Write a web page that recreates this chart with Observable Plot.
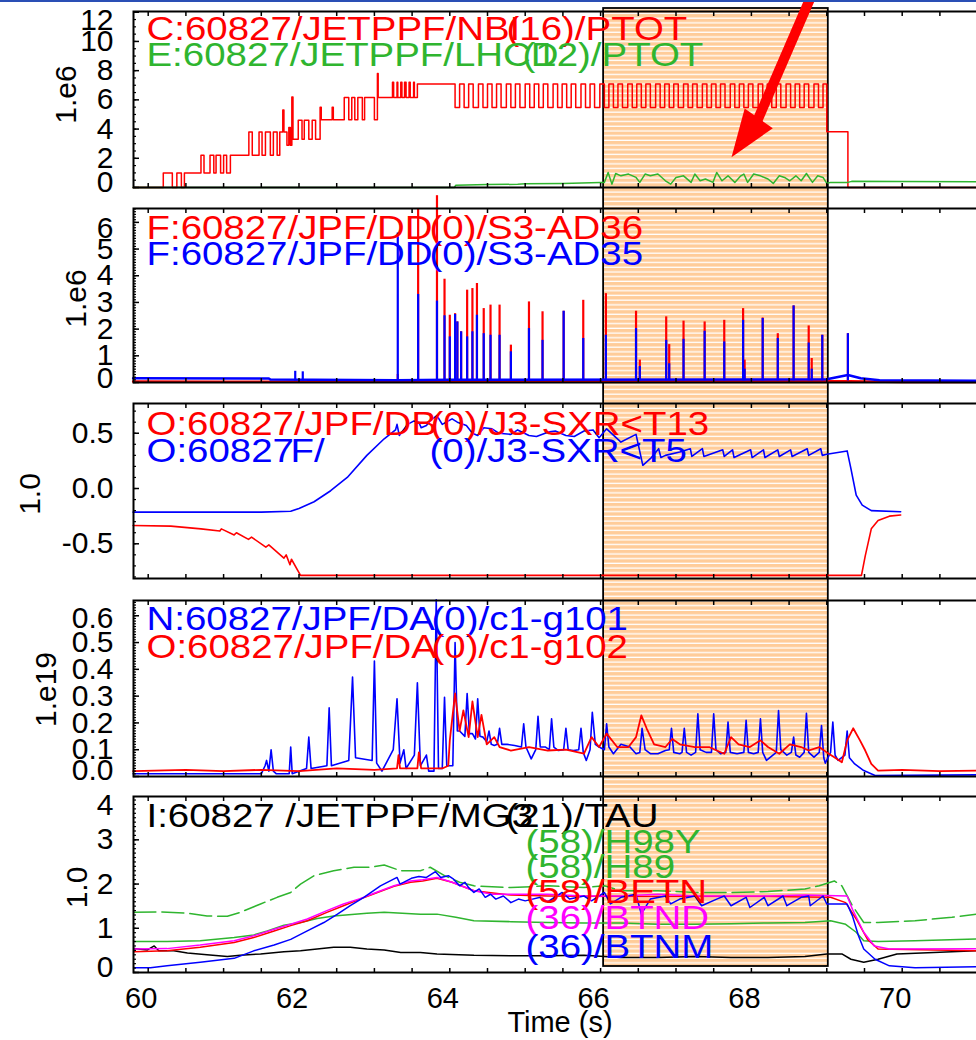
<!DOCTYPE html>
<html><head><meta charset="utf-8">
<script src="https://cdn.jsdelivr.net/npm/d3@7"></script>
<script src="https://cdn.jsdelivr.net/npm/@observablehq/plot@0.6"></script>
<style>
html,body{margin:0;padding:0;background:#fff;}
#wrap{position:relative;width:976px;height:1040px;overflow:hidden;}
#wrap svg{position:absolute;left:0;}
#topline{position:absolute;left:0;top:0;width:976px;height:2px;background:#2a4fb5;z-index:10}
</style></head><body><div id="wrap"><div id="topline"></div></div>
<script>
// ---------------- data ----------------
const xTickLabels = [60, 62, 64, 66, 68, 70];
const orangeBand = [66.04, 69.02];

// Panel 1: NBI PTOT (step) and LHCD PTOT, units 1e6
const nbSteps = [
[59.80,0],[60.20,1.0],[60.32,0],[60.38,1.0],[60.44,0],[60.48,1.0],
[60.70,2.2],[60.74,1.0],[60.82,2.2],[60.87,1.0],[60.90,2.2],[60.96,1.0],[61.00,2.2],[61.04,1.0],[61.09,2.2],
[61.335,3.8],[61.38,2.2],[61.47,3.8],[61.51,2.2],[61.555,3.8],[61.62,2.2],[61.66,3.8],[61.71,2.2],[61.745,3.8],
[61.785,5.3],[61.80,3.8],[61.84,2.9],[61.865,4.1],[61.885,2.9],[61.905,6.2],[61.92,3.3],
[61.99,4.6],[62.04,3.3],[62.07,4.6],[62.13,3.3],[62.175,4.6],[62.22,3.3],
[62.28,5.5],[62.295,4.64],[62.44,5.5],[62.455,4.64],
[62.60,6.16],[62.66,4.64],[62.70,6.16],[62.74,4.64],[62.78,6.16],[62.84,4.64],[62.87,6.16],[63.00,4.64],
[63.04,7.8],[63.05,6.16],
[63.24,7.2],[63.255,6.16],[63.30,7.2],[63.31,6.16],[63.35,7.2],[63.365,6.16],[63.40,7.2],[63.42,6.16],[63.46,7.2],[63.475,6.16],[63.52,7.2],[63.53,6.16],
[63.57,7.08],[64.07,5.48]
];
const nbModHigh = 7.08, nbModLow = 5.48;
const nbModOn = [64.13,64.25,64.38,64.50,64.62,64.75,64.87,65.00,65.12,65.24,65.37,65.49,65.61,65.74,65.86,65.99,66.11,66.23,66.36,66.48,66.60,66.73,66.85,66.97,67.10,67.22,67.35,67.47,67.59,67.72,67.84,67.96,68.09,68.21,68.33,68.46,68.58,68.70,68.83,68.95];
const nbModOff = [64.19,64.31,64.44,64.56,64.68,64.81,64.93,65.06,65.18,65.30,65.43,65.55,65.67,65.80,65.92,66.05,66.17,66.29,66.42,66.54,66.66,66.79,66.91,67.03,67.16,67.28,67.41,67.53,67.65,67.78,67.90,68.02,68.15,68.27,68.39,68.52,68.64,68.76,68.89];
const nbTail = [[69.00,3.82],[69.28,0],[71.0,0]];
const lhPtot = [[59.80,0],[64.06,0],[64.08,0.16],[64.5,0.2],[64.9,0.22],[65.0,0.25],[65.5,0.28],[66.0,0.35],
[66.05,0.35],[66.10,1.03],[66.15,0.23],[66.20,0.96],[66.27,0.80],[66.37,0.92],[66.47,0.69],[66.52,0.35],[66.59,0.92],[66.66,0.80],[66.76,0.92],[66.86,0.46],[66.93,0.23],[67.00,0.69],[67.10,0.80],[67.20,0.35],[67.25,0.92],[67.32,0.46],[67.39,0.58],[67.49,0.35],[67.54,1.03],[67.61,0.46],[67.69,0.80],[67.78,0.35],[67.86,0.80],[67.90,0.92],[67.95,0.35],[68.03,0.92],[68.12,0.80],[68.22,0.58],[68.29,0.28],[68.37,0.80],[68.44,0.69],[68.51,0.46],[68.59,0.80],[68.66,0.46],[68.73,0.96],[68.81,0.35],[68.88,0.80],[68.95,0.69],[69.00,0.28],
[69.05,0.35],[69.28,0.35],[69.33,0.42],[70.0,0.41],[71.0,0.40]];
const arrowShaft = [[68.797,13.15],[68.068,4.45]];
const arrowTip = [67.736,2.075];

// Panel 2: DD S3-AD36 (red) and S3-AD35 (blue), units 1e6: [t, red peak, blue peak]
const ddSpikes = [
[61.95,0.10,0.42],[62.05,0.10,0.40],[63.31,0.30,5.6],[63.58,6.5,3.3],[63.83,7.0,3.05],[63.93,3.87,2.5],[64.00,2.52,1.71],
[64.07,2.58,2.55],[64.10,2.27,2.27],[64.15,1.9,1.9],[64.23,3.46,1.71],[64.30,3.52,1.9],[64.36,3.71,2.52],[64.45,2.77,1.83],
[64.54,2.9,1.77],[64.66,2.9,1.77],[64.81,1.4,1.15],[65.05,3.02,2.02],[65.23,2.65,1.58],[65.51,2.67,2.67],[65.77,3.08,1.65],
[66.07,3.33,1.77],[66.47,2.67,2.02],[66.52,0.84,0.6],[66.87,2.46,1.58],[66.91,1.42,0.7],[67.10,2.3,1.62],[67.38,2.27,1.92],
[67.64,2.33,1.52],[67.89,2.77,2.33],[67.91,0.84,0.5],[68.15,2.42,2.40],[68.35,1.83,1.65],[68.56,2.87,2.87],[68.76,2.12,1.48],
[68.80,0.9,0.5],[68.94,1.77,1.77],[69.28,1.83,1.83]];
const ddSpikeFoot = 0.06;
const ddRedBase = [[59.8,0.04],[61.0,0.03],[63.3,0.03],[66.0,0.05],[69.3,0.05],[70.0,0.02],[71.0,0.02]];
const ddBlueBase = [[59.8,0.16],[61.6,0.15],[61.62,0.11],[63.3,0.08],[64.0,0.10],[69.0,0.12],[69.28,0.28],[69.45,0.16],[69.7,0.08],[71.0,0.07]];

// Panel 3: J3-SXR<T13 (red), J3-SXR<T5 (blue)
const sxrT13 = [[59.80,-0.335],[60.30,-0.34],[60.70,-0.365],[60.95,-0.385],[60.97,-0.365],[61.14,-0.42],[61.17,-0.40],[61.33,-0.46],[61.37,-0.44],[61.56,-0.53],[61.60,-0.51],[61.80,-0.63],[61.83,-0.60],[61.88,-0.69],[61.90,-0.64],[62.02,-0.786],[69.46,-0.786],[69.51,-0.61],[69.59,-0.365],[69.68,-0.29],[69.83,-0.25],[69.98,-0.24]];
const sxrT5 = [[59.80,-0.214],[61.50,-0.214],[61.89,-0.205],[62.00,-0.18],[62.20,-0.12],[62.42,-0.02],[62.64,0.10],[62.90,0.30],[63.13,0.45],[63.28,0.53],[63.30,0.58],[63.33,0.48],
[63.44,0.58],[63.52,0.61],[63.59,0.60],[63.62,0.55],[63.69,0.57],[63.75,0.62],[63.83,0.66],[63.90,0.58],[64.03,0.63],[64.10,0.60],[64.22,0.57],[64.30,0.50],[64.37,0.48],[64.45,0.55],[64.56,0.54],[64.65,0.50],[64.81,0.49],[64.90,0.53],[65.05,0.48],[65.15,0.47],[65.30,0.51],[65.40,0.52],[65.54,0.48],[65.65,0.47],[65.78,0.52],[65.90,0.53],[65.98,0.46],[66.08,0.54],
[66.27,0.42],[66.47,0.49],[66.56,0.21],[66.66,0.27],[66.77,0.36],[66.80,0.28],[66.86,0.30],[67.05,0.33],[67.19,0.36],[67.21,0.29],[67.35,0.36],[67.37,0.29],[67.62,0.35],[67.64,0.29],[67.75,0.35],[67.77,0.28],[67.99,0.35],[68.01,0.28],[68.16,0.35],[68.18,0.28],[68.35,0.35],[68.37,0.29],[68.52,0.35],[68.54,0.29],[68.74,0.36],[68.76,0.30],[68.92,0.36],[68.94,0.30],[69.00,0.31],[69.27,0.34],[69.32,0.18],[69.39,-0.06],[69.47,-0.15],[69.59,-0.20],[69.98,-0.21]];

// Panel 4: c1-g101 (blue), c1-g102 (red), units 1e19
const g101 = [[59.80,0.01],[61.50,0.01],[61.55,0.04],[61.57,0.06],[61.60,0.02],[61.63,0.10],[61.66,0.02],[61.70,0.01],[61.87,0.01],[61.89,0.11],[61.91,0.01],[62.10,0.03],[62.13,0.147],[62.16,0.03],[62.37,0.04],[62.40,0.256],[62.43,0.04],[62.66,0.06],[62.71,0.371],[62.75,0.07],[62.97,0.06],[63.00,0.431],[63.03,0.05],[63.10,0.02],[63.25,0.10],[63.30,0.29],[63.34,0.05],[63.39,0.10],[63.42,0.03],[63.53,0.08],[63.57,0.35],[63.61,0.04],[63.69,0.08],[63.72,0.02],[63.79,0.02],[63.82,0.66],[63.85,0.03],[63.90,0.03],[63.93,0.296],[63.96,0.04],[64.04,0.04],[64.07,0.50],
[64.10,0.17],[64.13,0.17],[64.20,0.15],[64.23,0.31],[64.26,0.16],[64.30,0.16],[64.34,0.14],[64.37,0.29],[64.40,0.15],[64.44,0.147],[64.49,0.13],[64.52,0.17],[64.55,0.12],[64.59,0.116],[64.63,0.12],[64.66,0.18],[64.69,0.12],[64.76,0.12],[64.86,0.116],[64.95,0.11],[64.98,0.197],[65.01,0.11],[65.08,0.066],[65.14,0.10],[65.17,0.225],[65.20,0.11],[65.27,0.11],[65.32,0.10],[65.35,0.215],[65.38,0.11],[65.44,0.097],[65.51,0.10],[65.54,0.18],[65.57,0.10],[65.64,0.097],[65.71,0.10],[65.74,0.18],[65.77,0.09],[65.81,0.06],[65.86,0.10],[65.89,0.24],[65.93,0.12],[65.98,0.11],[66.05,0.10],[66.08,0.197],[66.11,0.11],[66.17,0.085],[66.27,0.12],[66.39,0.11],[66.47,0.085],[66.52,0.09],[66.55,0.18],[66.59,0.10],[66.66,0.085],[66.76,0.085],[66.86,0.097],[66.91,0.10],[66.94,0.18],[66.97,0.09],[67.05,0.085],[67.08,0.09],[67.11,0.18],[67.14,0.09],[67.20,0.08],[67.26,0.09],[67.29,0.234],[67.32,0.10],[67.40,0.09],[67.47,0.09],[67.50,0.234],[67.53,0.10],[67.59,0.085],[67.66,0.09],[67.69,0.203],[67.72,0.09],[67.81,0.085],[67.90,0.09],[67.93,0.21],[67.96,0.09],[68.03,0.085],[68.09,0.09],[68.12,0.215],[68.15,0.09],[68.20,0.06],[68.33,0.09],[68.36,0.246],[68.39,0.10],[68.47,0.08],[68.53,0.09],[68.56,0.147],[68.59,0.08],[68.64,0.072],[68.70,0.09],[68.73,0.236],[68.76,0.09],[68.83,0.072],[68.90,0.09],[68.93,0.19],[68.96,0.07],[68.98,0.05],[69.05,0.09],[69.08,0.203],[69.11,0.08],[69.15,0.06],[69.24,0.08],[69.27,0.17],[69.30,0.07],[69.37,0.047],[69.49,0.022],[69.64,0.004],[70.99,0.006]];
const g102 = [[59.80,0.02],[60.5,0.025],[61.0,0.02],[61.5,0.025],[62.0,0.02],[62.5,0.03],[63.0,0.025],[63.30,0.03],[63.32,0.08],[63.34,0.03],[63.57,0.03],[63.59,0.09],[63.62,0.03],[63.90,0.03],[63.98,0.04],[64.00,0.135],[64.07,0.31],[64.13,0.17],[64.18,0.247],[64.25,0.147],[64.30,0.28],[64.37,0.147],[64.42,0.23],[64.49,0.12],[64.59,0.147],[64.66,0.11],[64.81,0.097],[65.05,0.11],[65.30,0.097],[65.54,0.10],[65.78,0.085],[65.88,0.147],[65.98,0.11],[66.08,0.16],[66.22,0.11],[66.37,0.11],[66.47,0.147],[66.54,0.228],[66.61,0.18],[66.71,0.12],[66.86,0.11],[66.95,0.14],[67.05,0.12],[67.25,0.11],[67.44,0.11],[67.54,0.097],[67.64,0.085],[67.73,0.147],[67.83,0.12],[67.98,0.11],[68.12,0.135],[68.22,0.11],[68.37,0.085],[68.51,0.12],[68.66,0.11],[68.76,0.097],[68.90,0.11],[69.00,0.09],[69.10,0.072],[69.20,0.053],[69.27,0.135],[69.35,0.18],[69.44,0.135],[69.51,0.097],[69.59,0.047],[69.68,0.022],[70.0,0.025],[70.5,0.02],[70.99,0.022]];

// Panel 5: TAU, H98Y, H89, BETN, BTND, BTNM
const tau = [[59.81,0.54],[59.99,0.51],[60.08,0.60],[60.14,0.49],[60.34,0.49],[60.52,0.44],[60.78,0.40],[61.05,0.36],[61.22,0.39],[61.49,0.42],[61.80,0.47],[62.02,0.49],[62.24,0.53],[62.46,0.57],[62.68,0.57],[62.90,0.53],[63.13,0.51],[63.35,0.45],[63.61,0.45],[63.83,0.42],[64.32,0.39],[64.81,0.38],[65.30,0.38],[65.78,0.39],[66.27,0.34],[66.76,0.34],[67.25,0.36],[67.73,0.34],[68.22,0.34],[68.71,0.36],[69.00,0.42],[69.20,0.42],[69.32,0.30],[69.49,0.23],[69.68,0.30],[69.93,0.42],[70.42,0.45],[70.99,0.49]];
const h98y = [[59.81,1.36],[60.16,1.37],[60.52,1.34],[60.78,1.28],[61.05,1.27],[61.22,1.36],[61.49,1.55],[61.71,1.70],[61.89,1.81],[62.02,2.0],[62.20,2.19],[62.46,2.30],[62.73,2.38],[62.95,2.38],[63.13,2.43],[63.35,2.30],[63.61,2.30],[63.74,2.38],[63.93,2.19],[64.13,2.04],[64.32,1.96],[64.81,1.92],[65.30,1.96],[65.78,1.92],[66.05,1.96],[66.27,1.85],[66.76,1.85],[67.25,1.81],[67.73,1.81],[68.22,1.83],[68.71,1.89],[68.90,1.96],[69.10,2.07],[69.20,1.96],[69.34,1.51],[69.49,1.13],[69.68,1.13],[70.17,1.17],[70.66,1.25],[70.99,1.32]];
const h89 = [[59.81,0.70],[60.25,0.70],[60.69,0.72],[61.14,0.79],[61.40,0.85],[61.58,0.94],[61.80,1.07],[62.02,1.13],[62.24,1.22],[62.46,1.28],[62.90,1.34],[63.13,1.36],[63.61,1.32],[63.83,1.32],[64.08,1.25],[64.32,1.17],[64.81,1.15],[65.30,1.13],[65.78,1.12],[66.27,1.12],[66.76,1.09],[67.25,1.09],[67.73,1.10],[68.22,1.12],[68.71,1.13],[69.05,1.17],[69.25,1.09],[69.39,0.91],[69.49,0.72],[69.68,0.70],[70.17,0.72],[70.99,0.76]];
const betn = [[59.81,0.47],[60.25,0.49],[60.69,0.57],[61.14,0.68],[61.40,0.79],[61.67,0.94],[61.89,1.06],[62.11,1.17],[62.37,1.36],[62.59,1.51],[62.81,1.66],[63.04,1.81],[63.26,1.95],[63.48,2.04],[63.64,2.07],[63.83,2.13],[64.03,2.04],[64.32,1.85],[64.81,1.75],[65.30,1.73],[66.27,1.72],[67.25,1.72],[68.22,1.72],[68.71,1.71],[69.05,1.70],[69.25,1.58],[69.39,1.21],[69.54,0.75],[69.68,0.53],[70.99,0.49]];
const btnd = [[59.81,0.53],[60.25,0.54],[60.69,0.62],[61.14,0.72],[61.40,0.83],[61.67,0.98],[61.89,1.09],[62.11,1.21],[62.37,1.40],[62.59,1.55],[62.81,1.67],[63.04,1.82],[63.26,1.96],[63.48,2.07],[63.64,2.10],[63.83,2.15],[64.03,2.04],[64.32,1.85],[64.56,1.77],[64.81,1.77],[65.30,1.77],[65.78,1.73],[66.27,1.73],[66.76,1.77],[67.25,1.73],[67.73,1.73],[68.22,1.73],[68.71,1.75],[69.27,1.73],[69.34,1.43],[69.49,0.91],[69.63,0.60],[69.83,0.53],[70.99,0.54]];
const btnm = [[59.81,0.11],[60.03,0.11],[60.25,0.15],[60.69,0.23],[61.14,0.32],[61.40,0.49],[61.67,0.62],[61.89,0.75],[62.11,0.94],[62.33,1.13],[62.51,1.32],[62.68,1.51],[62.86,1.70],[63.08,1.96],[63.30,2.15],[63.34,2.0],[63.49,2.13],[63.59,2.17],[63.69,2.15],[63.81,2.28],[63.88,2.15],[63.98,2.19],[64.05,2.11],[64.13,1.96],[64.20,2.04],[64.25,1.92],[64.32,1.81],[64.39,1.89],[64.47,1.70],[64.54,1.77],[64.61,1.66],[64.71,1.73],[64.81,1.58],[64.91,1.66],[65.00,1.62],[65.20,1.70],[65.30,1.60],[65.49,1.81],[65.59,1.66],[65.78,1.73],[65.88,1.62],[66.05,1.81],[66.13,1.55],[66.27,1.70],[66.47,1.77],[66.54,1.32],[66.66,1.66],[66.86,1.73],[66.93,1.55],[67.05,1.66],[67.25,1.73],[67.34,1.51],[67.54,1.66],[67.64,1.73],[67.73,1.51],[67.93,1.70],[67.98,1.47],[68.17,1.70],[68.22,1.51],[68.42,1.73],[68.47,1.51],[68.66,1.70],[68.76,1.73],[68.78,1.51],[68.95,1.73],[69.00,1.55],[69.27,1.55],[69.34,1.28],[69.42,0.83],[69.49,0.53],[69.64,0.30],[69.83,0.15],[70.17,0.11],[70.99,0.13]];

// labels
const p1Labels = ["C:60827/JETPPF/NBI", "(16)/PTOT", "E:60827/JETPPF/LHCD", "(12)/PTOT"];
const p2Labels = ["F:60827/JPF/DD", "(0)/S3-AD36", "F:60827/JPF/DD", "(0)/S3-AD35"];
const p3Labels = ["O:60827/JPF/DB", "(0)/J3-SXR<T13", "O:60827", "F/", "(0)/J3-SXR<T5"];
const p4Labels = ["N:60827/JPF/DA", "(0)/c1-g101", "O:60827/JPF/DA", "(0)/c1-g102"];
const p5Labels = ["I:60827 /JETPPF/MG3", "(21)/TAU", "(58)/H98Y", "(58)/H89", "(58)/BETN", "(36)/BTND", "(36)/BTNM"];
const yTitles = ["1.e6", "1.e6", "1.0", "1.e19", "1.0"];
const xTitle = "Time (s)";

// ---------------- drawing ----------------
const FONT = '"Liberation Sans", Arial, Helvetica, sans-serif';
const RED = "#ff0000", GREEN = "#2fb52f", BLUE = "#0000ff", MAGENTA = "#ff00ff", BLACK = "#000000";
const TICKFONT = 30, XFONT = 29, TITLEFONT = 30;
const X_DOMAIN = [59.805, 71.012];
const xMinor = d3.range(60, 71.01, 0.5);
const wrap = document.getElementById("wrap");

const nbRows = nbSteps.concat(nbModOn.map(t => [t, nbModHigh]), nbModOff.map(t => [t, nbModLow]), nbTail)
  .sort((a, b) => a[0] - b[0]);

const px = d => d[0], py = d => d[1];

function lbl(text, fill, dx, dy) {
  return Plot.text([text], {text: d => d, frameAnchor: "top-left", dx, dy, fill, fontSize: 34,
    textAnchor: "start", lineAnchor: "bottom"});
}

function place(svg, top) {
  svg.style.top = top + "px";
  wrap.appendChild(svg);
  svg.querySelectorAll('g[font-size="34"] text').forEach(t => {
    const L = t.getComputedTextLength();
    t.setAttribute("textLength", (L * 1.13).toFixed(1));
    t.setAttribute("lengthAdjust", "spacingAndGlyphs");
  });
}

function panel(cfg) {
  const labelAxes = cfg.yLabelGroups.map(g => Plot.axisY({ticks: g.ticks, anchor: "left", tickSize: 0, tickPadding: 20,
    tickFormat: cfg.fmt, fontSize: TICKFONT, dy: g.dy}));
  const marks = [
    ...cfg.marks,
    Plot.frame({stroke: "black", strokeWidth: 2}),
    Plot.axisX({ticks: xMinor, anchor: "bottom", tickSize: -4, tickFormat: () => "", strokeWidth: 1.5}),
    Plot.axisX({ticks: xMinor, anchor: "top", tickSize: -4, tickFormat: () => "", strokeWidth: 1.5}),
    Plot.axisY({ticks: cfg.yMinor, anchor: "left", tickSize: -3, tickFormat: () => "", strokeWidth: 1.2}),
    Plot.axisY({ticks: cfg.yMajor, anchor: "left", tickSize: -6, tickFormat: () => "", strokeWidth: 1.5}),
    ...labelAxes,
    Plot.text([cfg.yTitle], {text: d => d, frameAnchor: "left", rotate: -90, dx: cfg.titleDx, dy: cfg.titleDy,
      fontSize: TITLEFONT, textAnchor: "middle", lineAnchor: "middle"}),
    ...(cfg.extra || [])
  ];
  const svg = Plot.plot({
    width: 976, height: cfg.height, marginLeft: 133, marginRight: -2, marginTop: cfg.mt, marginBottom: cfg.mb,
    style: {background: "transparent", fontFamily: FONT, overflow: "visible"},
    x: {domain: X_DOMAIN},
    y: {domain: cfg.yDomain},
    marks
  });
  place(svg, cfg.top);
}

// overlay: shaded interval
const ov = Plot.plot({
  width: 976, height: 1040, marginLeft: 133, marginRight: -2, marginTop: 8, marginBottom: 74,
  style: {background: "transparent"},
  x: {domain: X_DOMAIN, axis: null},
  marks: [Plot.rect([orangeBand], {x1: d => d[0], x2: d => d[1], fill: "url(#stripes)", stroke: "black", strokeWidth: 1.8})]
});
{
  const defs = d3.select(ov).insert("defs", ":first-child");
  const pat = defs.append("pattern").attr("id", "stripes").attr("patternUnits", "userSpaceOnUse")
    .attr("width", 10).attr("height", 4.7);
  pat.append("rect").attr("width", 10).attr("height", 4.7).attr("fill", "#ffcc99");
  pat.append("rect").attr("y", 3.4).attr("width", 10).attr("height", 1.3).attr("fill", "#ffffff");
}
place(ov, 0);

// arrow head symbol (tip at origin)
const headL = 47.4, headW = 34.4, headAng = Math.atan2(0.818, -0.575);
const arrowHead = {draw(ctx) {
  const ux = Math.cos(headAng), uy = Math.sin(headAng);
  const bx = -ux * headL, by = -uy * headL, qx = -uy * headW / 2, qy = ux * headW / 2;
  ctx.moveTo(0, 0); ctx.lineTo(bx + qx, by + qy); ctx.lineTo(bx - qx, by - qy); ctx.closePath();
}};

// Panel 1
panel({
  top: 0, height: 197, mt: 11, mb: 10, yDomain: [0, 12.05],
  yMajor: [0, 2, 4, 6, 8, 10, 12], yMinor: d3.range(0, 12.01, 0.5), fmt: d => d.toFixed(0),
  yLabelGroups: [{ticks: [2, 4, 6, 8, 10], dy: 0}, {ticks: [0], dy: -5}, {ticks: [12], dy: 8}],
  yTitle: yTitles[0], titleDx: -67, titleDy: -5,
  marks: [
    Plot.line(nbRows, {x: px, y: py, curve: "step-after", stroke: RED, strokeWidth: 1.5}),
    Plot.line(lhPtot, {x: px, y: py, stroke: GREEN, strokeWidth: 1.5}),
    lbl(p1Labels[0], RED, 13, 28), lbl(p1Labels[1], RED, 373, 28),
    lbl(p1Labels[2], GREEN, 13, 54), lbl(p1Labels[3], GREEN, 389, 54)
  ],
  extra: [
    Plot.link([arrowShaft], {x1: d => d[0][0], y1: d => d[0][1], x2: d => d[1][0], y2: d => d[1][1], stroke: RED, strokeWidth: 10}),
    Plot.dot([arrowTip], {x: px, y: py, symbol: arrowHead, r: 10, fill: RED, stroke: "none"})
  ]
});

// Panel 2
panel({
  top: 197, height: 195, mt: 11, mb: 10, yDomain: [0, 6.52],
  yMajor: [0, 1, 2, 3, 4, 5, 6], yMinor: d3.range(0, 6.51, 0.1), fmt: d => d.toFixed(0),
  yLabelGroups: [{ticks: [1, 2, 3, 4, 5], dy: 0}, {ticks: [0], dy: -4}, {ticks: [6], dy: 6}],
  yTitle: yTitles[1], titleDx: -57, titleDy: 3,
  marks: [
    Plot.line(ddRedBase, {x: px, y: py, stroke: RED, strokeWidth: 2.5}),
    Plot.ruleX(ddSpikes, {x: d => d[0], y1: ddSpikeFoot, y2: d => d[1], stroke: RED, strokeWidth: 2.2}),
    Plot.line(ddBlueBase, {x: px, y: py, stroke: BLUE, strokeWidth: 2.5}),
    Plot.ruleX(ddSpikes, {x: d => d[0], y1: ddSpikeFoot, y2: d => d[2], stroke: BLUE, strokeWidth: 2.2}),
    lbl(p2Labels[0], RED, 13, 30), lbl(p2Labels[1], RED, 296, 30),
    lbl(p2Labels[2], BLUE, 13, 56), lbl(p2Labels[3], BLUE, 296, 56)
  ]
});

// Panel 3
panel({
  top: 392, height: 197, mt: 11, mb: 11, yDomain: [-0.814, 0.769],
  yMajor: [-0.5, 0, 0.5], yMinor: d3.range(-0.8, 0.71, 0.1), fmt: d => d.toFixed(1),
  yLabelGroups: [{ticks: [-0.5, 0, 0.5], dy: 0}],
  yTitle: yTitles[2], titleDx: -103, titleDy: 3,
  marks: [
    Plot.line(sxrT13, {x: px, y: py, stroke: RED, strokeWidth: 1.6}),
    Plot.line(sxrT5, {x: px, y: py, stroke: BLUE, strokeWidth: 1.6}),
    lbl(p3Labels[0], RED, 13, 31), lbl(p3Labels[1], RED, 297, 31),
    lbl(p3Labels[2], BLUE, 13, 58), lbl(p3Labels[3], BLUE, 157, 58), lbl(p3Labels[4], BLUE, 296, 58)
  ]
});

// Panel 4
panel({
  top: 589, height: 197, mt: 11, mb: 10, yDomain: [0, 0.657],
  yMajor: [0, 0.1, 0.2, 0.3, 0.4, 0.5, 0.6], yMinor: d3.range(0, 0.651, 0.01), fmt: d => d.toFixed(1),
  yLabelGroups: [{ticks: [0.1, 0.2, 0.3, 0.4, 0.5], dy: 0}, {ticks: [0], dy: -6}, {ticks: [0.6], dy: 3}],
  yTitle: yTitles[3], titleDx: -87, titleDy: 1,
  marks: [
    Plot.line(g101, {x: px, y: py, stroke: BLUE, strokeWidth: 1.6}),
    Plot.line(g102, {x: px, y: py, stroke: RED, strokeWidth: 1.8}),
    lbl(p4Labels[0], BLUE, 13, 29), lbl(p4Labels[1], BLUE, 298, 29),
    lbl(p4Labels[2], RED, 13, 57), lbl(p4Labels[3], RED, 298, 57)
  ]
});

// Panel 5
panel({
  top: 786, height: 254, mt: 10, mb: 68, yDomain: [0, 3.98],
  yMajor: [0, 1, 2, 3], yMinor: d3.range(0, 3.98, 0.1), fmt: d => d.toFixed(0),
  yLabelGroups: [{ticks: [1, 2, 3], dy: 0}, {ticks: [0], dy: -5}, {ticks: [4], dy: 10}],
  yTitle: yTitles[4], titleDx: -56, titleDy: 3,
  marks: [
    Plot.line(tau, {x: px, y: py, stroke: BLACK, strokeWidth: 1.5}),
    Plot.line(h98y, {x: px, y: py, stroke: GREEN, strokeWidth: 1.5, strokeDasharray: "22,6"}),
    Plot.line(h89, {x: px, y: py, stroke: GREEN, strokeWidth: 1.5}),
    Plot.line(betn, {x: px, y: py, stroke: RED, strokeWidth: 1.5}),
    Plot.line(btnd, {x: px, y: py, stroke: MAGENTA, strokeWidth: 1.5}),
    Plot.line(btnm, {x: px, y: py, stroke: BLUE, strokeWidth: 1.5}),
    lbl(p5Labels[0], BLACK, 13, 30), lbl(p5Labels[1], BLACK, 372, 30),
    lbl(p5Labels[2], GREEN, 392, 56), lbl(p5Labels[3], GREEN, 392, 81),
    lbl(p5Labels[4], RED, 392, 106), lbl(p5Labels[5], MAGENTA, 392, 132),
    lbl(p5Labels[6], BLUE, 392, 161)
  ],
  extra: [
    Plot.axisX({ticks: xTickLabels, anchor: "bottom", tickSize: 0, tickPadding: 15, dx: -7, fontSize: XFONT, tickFormat: d => d.toFixed(0)}),
    Plot.text([xTitle], {text: d => d, frameAnchor: "bottom", dx: 4, dy: 59, fontSize: XFONT, lineAnchor: "bottom"})
  ]
});
</script></body></html>
